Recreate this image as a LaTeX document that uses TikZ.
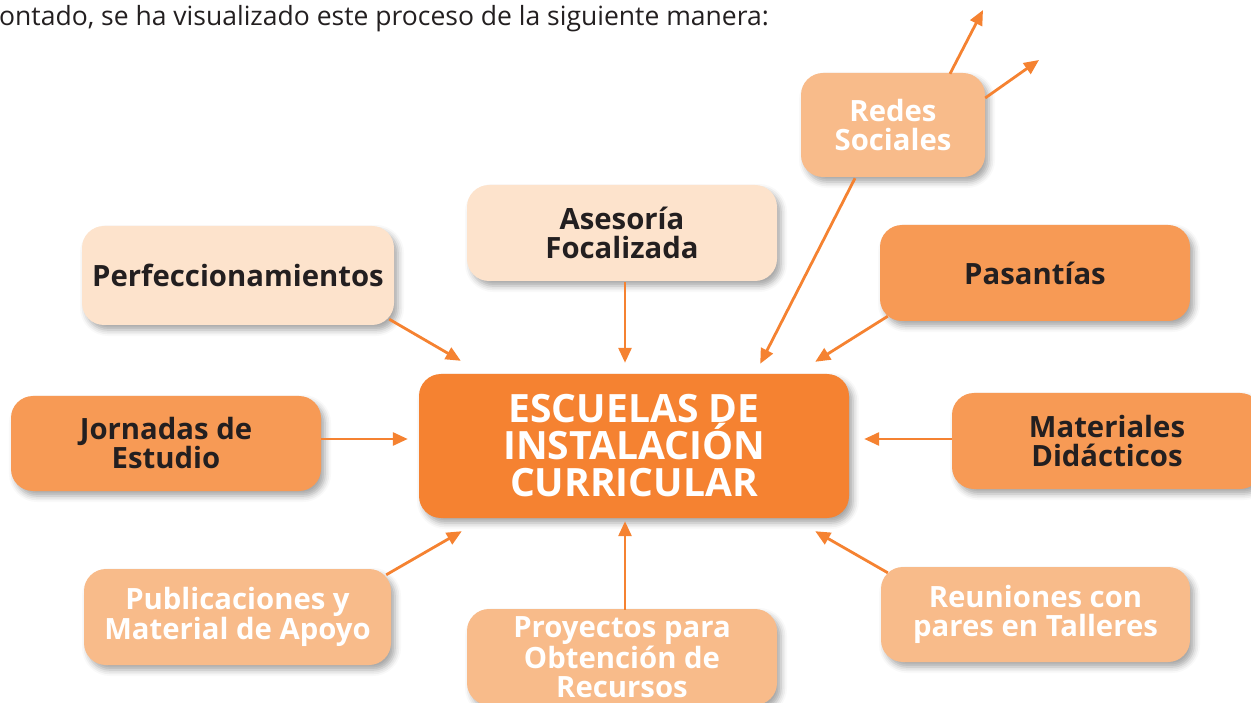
\documentclass[tikz,border=0pt]{standalone}
\usepackage{fontspec}
\setmainfont{Open Sans}
\usetikzlibrary{arrows.meta,shadows.blur}
\definecolor{ordark}{HTML}{F58231}
\definecolor{ormid}{HTML}{F79A55}
\definecolor{orlight}{HTML}{F8BB8A}
\definecolor{orpale}{HTML}{FDE3CC}
\definecolor{txtdark}{HTML}{231F20}
\tikzset{
  box/.style={rounded corners=22pt, align=center, inner sep=0pt,
    font=\fontsize{29.3}{29}\selectfont\bfseries,
    blur shadow={shadow xshift=4pt, shadow yshift=-5pt, shadow blur radius=6pt, shadow opacity=35}},
  boxpale/.style={box, fill=orpale, text=txtdark},
  boxmid/.style={box, fill=ormid, text=txtdark},
  boxlight/.style={box, fill=orlight, text=white},
  conn/.style={draw=ordark, line width=2.8pt, -{Triangle[length=15pt,width=13pt]}},
}
\begin{document}
\begin{tikzpicture}[x=1pt,y=-1pt]
\useasboundingbox (0,0) rectangle (1251,703);
\node[anchor=west, font=\fontsize{26.5}{28}\selectfont, text=txtdark, inner sep=0pt] (intro) at (-1,19) {ontado, se ha visualizado este proceso de la siguiente manera:};

\node[box, fill=ordark, text=white, minimum width=430pt, minimum height=144pt,
  font=\fontsize{39}{37}\selectfont\bfseries] (central) at (634,446) {ESCUELAS DE\\INSTALACIÓN\\CURRICULAR};

\node[boxlight, minimum width=184pt, minimum height=104pt] (redes) at (893,125) {Redes\\Sociales};
\node[boxpale, minimum width=310pt, minimum height=96pt] (ases) at (622,233) {Asesoría\\Focalizada};
\node[boxpale, minimum width=312pt, minimum height=99pt] (perf) at (238,275.5) {Perfeccionamientos};
\node[boxmid, minimum width=310pt, minimum height=96pt] (pas) at (1035,273) {Pasantías};
\node[boxmid, minimum width=310pt, minimum height=95pt] (jorn) at (166,443.5) {Jornadas de\\Estudio};
\node[boxmid, minimum width=310pt, minimum height=96pt] (mat) at (1107,441) {Materiales\\Didácticos};
\node[boxlight, minimum width=307pt, minimum height=96pt] (pub) at (237.5,617) {Publicaciones y\\Material de Apoyo};
\node[boxlight, minimum width=310pt, minimum height=96pt] (proy) at (622,657) {Proyectos para\\Obtención de\\Recursos};
\node[boxlight, minimum width=309pt, minimum height=95pt] (reun) at (1035.5,614.5) {Reuniones con\\pares en Talleres};

\coordinate (up1) at (983,10);
\coordinate (up2) at (1039,60);

\draw[conn] ([shift={(-5,-6)}]perf.south east) -- ([shift={(42,-13)}]central.north west);
\draw[conn] ([shift={(3,1)}]ases.south) -- ([shift={(-9,-11)}]central.north);
\draw[conn] ([shift={(-38,1)}]redes.south) -- ([shift={(-89,-10)}]central.north east);
\draw[conn] ([shift={(57,1)}]redes.north) -- (up1);
\draw[conn] ([shift={(0,-27)}]redes.east) -- (up2);
\draw[conn] ([shift={(8,-5)}]pas.south west) -- ([shift={(-34,-12)}]central.north east);
\draw[conn] ([shift={(0,-4.5)}]jorn.east) -- ([shift={(-11,-7)}]central.west);
\draw[conn] ([shift={(0,-2)}]mat.west) -- ([shift={(15,-7)}]central.east);
\draw[conn] ([shift={(-5,6)}]pub.north east) -- ([shift={(43,13)}]central.south west);
\draw[conn] ([shift={(3,1)}]proy.north) -- ([shift={(-9,3)}]central.south);
\draw[conn] ([shift={(7,6)}]reun.north west) -- ([shift={(-34,13)}]central.south east);
\end{tikzpicture}
\end{document}
